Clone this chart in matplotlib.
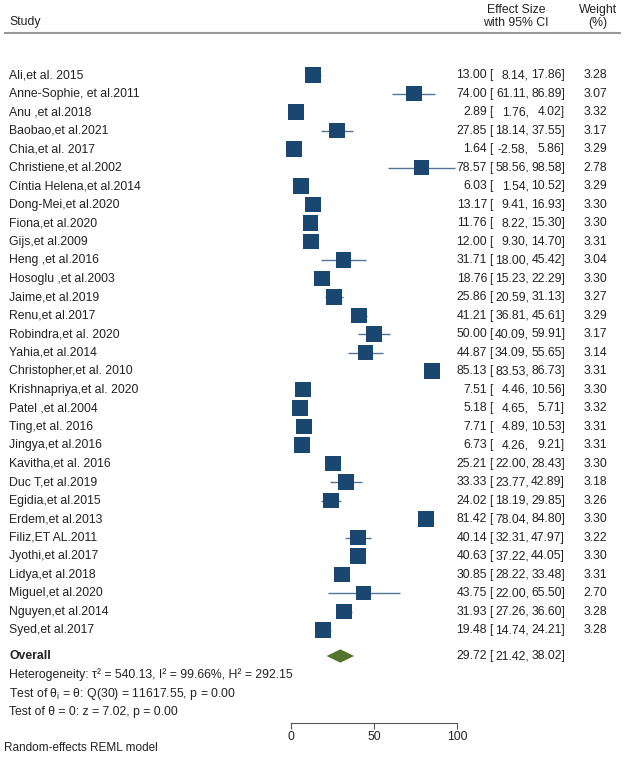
import matplotlib
matplotlib.use("Agg")
import numpy as np
import matplotlib.pyplot as plt
from matplotlib.transforms import blended_transform_factory


studies = [
    "Ali,et al. 2015", "Anne-Sophie, et al.2011", "Anu ,et al.2018",
    "Baobao,et al.2021", "Chia,et al. 2017", "Christiene,et al.2002",
    "Cíntia Helena,et al.2014", "Dong-Mei,et al.2020", "Fiona,et al.2020",
    "Gijs,et al.2009", "Heng ,et al.2016", "Hosoglu ,et al.2003",
    "Jaime,et al.2019", "Renu,et al.2017", "Robindra,et al. 2020",
    "Yahia,et al.2014", "Christopher,et al. 2010", "Krishnapriya,et al. 2020",
    "Patel ,et al.2004", "Ting,et al. 2016", "Jingya,et al.2016",
    "Kavitha,et al. 2016", "Duc T,et al.2019", "Egidia,et al.2015",
    "Erdem,et al.2013", "Filiz,ET AL.2011", "Jyothi,et al.2017",
    "Lidya,et al.2018", "Miguel,et al.2020", "Nguyen,et al.2014",
    "Syed,et al.2017",
]
effect = [13.00, 74.00, 2.89, 27.85, 1.64, 78.57, 6.03, 13.17, 11.76, 12.00,
          31.71, 18.76, 25.86, 41.21, 50.00, 44.87, 85.13, 7.51, 5.18, 7.71,
          6.73, 25.21, 33.33, 24.02, 81.42, 40.14, 40.63, 30.85, 43.75, 31.93,
          19.48]
ci_low = [8.14, 61.11, 1.76, 18.14, -2.58, 58.56, 1.54, 9.41, 8.22, 9.30,
          18.00, 15.23, 20.59, 36.81, 40.09, 34.09, 83.53, 4.46, 4.65, 4.89,
          4.26, 22.00, 23.77, 18.19, 78.04, 32.31, 37.22, 28.22, 22.00, 27.26,
          14.74]
ci_high = [17.86, 86.89, 4.02, 37.55, 5.86, 98.58, 10.52, 16.93, 15.30, 14.70,
           45.42, 22.29, 31.13, 45.61, 59.91, 55.65, 86.73, 10.56, 5.71, 10.53,
           9.21, 28.43, 42.89, 29.85, 84.80, 47.97, 44.05, 33.48, 65.50, 36.60,
           24.21]
weight = [3.28, 3.07, 3.32, 3.17, 3.29, 2.78, 3.29, 3.30, 3.30, 3.31,
          3.04, 3.30, 3.27, 3.29, 3.17, 3.14, 3.31, 3.30, 3.32, 3.31,
          3.31, 3.30, 3.18, 3.26, 3.30, 3.22, 3.30, 3.31, 2.70, 3.28,
          3.28]

overall = (29.72, 21.42, 38.02)
het_text = "Heterogeneity: τ² = 540.13, I² = 99.66%, H² = 292.15"
q_text = r"Test of θ$_\mathregular{i}$ = θ: Q(30) = 11617.55, p = 0.00"
z_text = "Test of θ = 0: z = 7.02, p = 0.00"

NAVY = "#1a476f"
GREEN = "#55752f"
TXT = "#222222"
FS = 8.8

plt.rcParams["font.family"] = ["Liberation Sans", "DejaVu Sans"]
plt.rcParams["mathtext.fontset"] = "custom"
plt.rcParams["mathtext.rm"] = "Liberation Sans"

W, H = 625, 760
fig = plt.figure(figsize=(W / 100, H / 100), dpi=100)


def fx(px):
    return px / W


def fy(py):
    return 1 - py / H


# plot area: axis line sits at y=723 px, x=0 -> 291 px, x=100 -> 457 px
AX_TOP, AX_BOT = 40, 723
ax = fig.add_axes([0, fy(AX_BOT), 1, fy(AX_TOP) - fy(AX_BOT)])
x0, x100 = 291, 457
k = (x100 - x0) / 100
ax.set_xlim(-x0 / k, (W - x0) / k)
ROW0, STEP = 75, 18.5
ax.set_ylim((AX_BOT - ROW0) / STEP, (AX_TOP - ROW0) / STEP)

rows = np.arange(len(studies))
ax.hlines(rows, ci_low, ci_high, color=NAVY, lw=1, alpha=0.75, zorder=1)
side_pt = 16 * np.sqrt(np.array(weight) / max(weight)) * 72 / 100
ax.scatter(effect, rows, marker="s", s=side_pt ** 2, color=NAVY,
           linewidths=0, zorder=2)

ov_y = (656 - ROW0) / STEP
ax.fill([overall[1], overall[0], overall[2], overall[0]],
        [ov_y, ov_y - 0.36, ov_y, ov_y + 0.36], color=GREEN, lw=0, zorder=2)

for s in ["top", "left", "right"]:
    ax.spines[s].set_visible(False)
ax.spines["bottom"].set_bounds(0, 100)
ax.spines["bottom"].set_color("#555555")
ax.spines["bottom"].set_linewidth(0.8)
ax.set_yticks([])
ax.set_xticks([0, 50, 100])
ax.tick_params(axis="x", labelsize=FS, length=4, width=0.8, colors="#555555",
               labelcolor=TXT, pad=2)

trans = blended_transform_factory(fig.transFigure, ax.transData)


def row_text(y, name, es, lo, hi, wt=None, bold=False):
    kw = dict(transform=trans, va="center", fontsize=FS, color=TXT)
    ax.text(fx(9), y, name, ha="left",
            fontweight="bold" if bold else "normal", **kw)
    ax.text(fx(487), y, f"{es:.2f}", ha="right", **kw)
    ax.text(fx(489), y, "[", ha="left", **kw)
    ax.text(fx(529), y, f"{lo:.2f},", ha="right", **kw)
    ax.text(fx(565), y, f"{hi:.2f}]", ha="right", **kw)
    if wt is not None:
        ax.text(fx(607), y, f"{wt:.2f}", ha="right", **kw)


for i, name in enumerate(studies):
    row_text(i, name, effect[i], ci_low[i], ci_high[i], weight[i])
row_text(ov_y, "Overall", *overall, bold=True)

# header
fig.text(fx(9), fy(22), "Study", ha="left", va="center", fontsize=FS, color=TXT)
fig.text(fx(516), fy(10), "Effect Size", ha="center", va="center", fontsize=FS, color=TXT)
fig.text(fx(516), fy(23), "with 95% CI", ha="center", va="center", fontsize=FS, color=TXT)
fig.text(fx(598), fy(10), "Weight", ha="center", va="center", fontsize=FS, color=TXT)
fig.text(fx(598), fy(23), "(%)", ha="center", va="center", fontsize=FS, color=TXT)
fig.add_artist(plt.Line2D([fx(5), fx(620)], [fy(33), fy(33)],
                          color="#999999", lw=1.5))

# stats
fig.text(fx(9), fy(675), het_text, ha="left", va="center", fontsize=FS, color=TXT)
fig.text(fx(9), fy(694), q_text, ha="left", va="center", fontsize=FS, color=TXT)
fig.text(fx(9), fy(712), z_text, ha="left", va="center", fontsize=FS, color=TXT)
fig.text(fx(4), fy(748), "Random-effects REML model", ha="left", va="center",
         fontsize=FS - 0.3, color=TXT)

fig.savefig("out.png", dpi=100, facecolor="white")
